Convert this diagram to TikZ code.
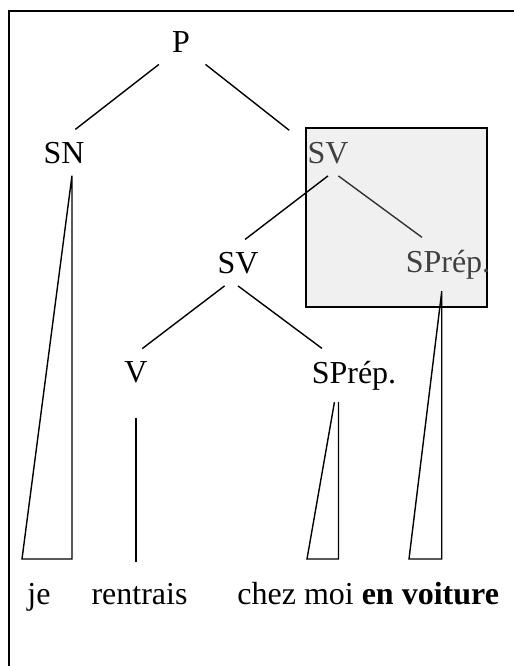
\documentclass[tikz,border=0pt]{standalone}
\usepackage{fontspec}
\setmainfont{Liberation Serif}
\begin{document}
\begin{tikzpicture}[x=0.5pt,y=-0.5pt,
		font=\fontsize{16}{19}\selectfont,
		cat/.style={anchor=base,inner xsep=9pt,inner ysep=6pt},
		word/.style={anchor=base,inner sep=0pt},
		branch/.style={line width=0.7pt}]
		\useasboundingbox (0,0) rectangle (514,666);
		\draw[line width=1pt] (9,700) -- (9,11) -- (530,11);
		\draw[line width=0.8pt,fill=gray!12] (306,128) rectangle (487,307);
		% categories
		\node[cat] (P) at (181,52) {P};
		\node[cat] (SN) at (64,163) {SN};
		\node[cat,black!75] (SVa) at (328,163) {SV};
		\node[cat] (SVb) at (238,273) {SV};
		\node[cat,black!75] (SPa) at (448,272) {SPrép.};
		\node[cat] (V) at (136,382) {V};
		\node[cat] (SPb) at (354,383) {SPrép.};
		% words
		\node[word] (je) at (39,604) {je};
		\node[word] (rentrais) at (139.5,604) {rentrais};
		\node[word,anchor=base west] (chez) at (237,604) {chez moi \textbf{en voiture}};
		\coordinate (je-l) at (22,559);
		\coordinate (chez-l) at (307,559);
		\coordinate (voit-l) at (409,559);
		\coordinate (v-end) at (136,562);
		% branches
		\draw[branch] (P.-134) -- (SN.64);
		\draw[branch] (P.-43) -- (SVa.150);
		\draw[branch] (SVa.south) -- (SVb.73);
		\draw[branch,black!80] (SVa.-66) -- (SPa.134);
		\draw[branch] (SVb.-120) -- (V.75);
		\draw[branch] (SVb.south) -- (SPb.140);
		\draw[branch] (V.south) ++(0,23) -- (v-end);
		% triangles
		\draw[branch] (SN.-71) -- (je-l) -| (SN.-71);
		\draw[branch] (SPb.-126) -- (chez-l) -| (SPb.-120);
		\draw[branch] (SPa.-103) -- (voit-l) -| (SPa.-103);
\end{tikzpicture}
\end{document}
